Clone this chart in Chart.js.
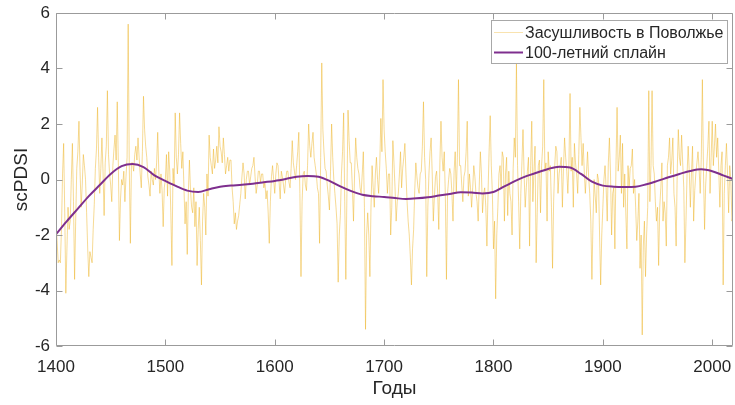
<!DOCTYPE html>
<html lang="ru">
<head>
<meta charset="utf-8">
<title>scPDSI — Поволжье</title>
<script src="https://cdn.jsdelivr.net/npm/chart.js@4.4.1/dist/chart.umd.min.js"></script>
<style>
  html, body { margin: 0; padding: 0; background: #ffffff; }
  #chartBox { width: 735px; height: 405px; }
</style>
</head>
<body>
<div id="chartBox"><canvas id="pdsiChart" width="735" height="405"></canvas></div>
<script>
// Annual scPDSI for the Volga region, one value per year starting at FIRST_YEAR (rows are decades)
const FIRST_YEAR = 1400;
const annualPdsi = [
  -1.5, -2.2, -3.0, -2.9, -3.0, -1.8, 0.2, 1.3, -1.2, -4.1,
  -2.5, -1.0, -1.8, -1.5, 0.0, 1.3, -0.8, -3.6, -1.5, 0.4,
  1.0, 2.1, 0.3, -1.0, -0.2, 0.9, 0.5, 0.0, -1.2, -2.5,
  -3.5, -2.6, -2.8, -3.0, -1.8, -0.9, 0.4, 1.1, 2.6, 0.8,
  -0.5, 0.4, 1.5, 0.3, -1.3, 0.6, 1.2, 3.2, 0.9, 0.2,
  -0.2, -0.8, 0.5, 1.1, 1.6, 0.7, 2.8, 0.6, -2.2, -0.7,
  0.0, -0.2, 0.3, -0.8, 0.1, 0.8, 5.6, 0.5, -2.3, 0.6,
  0.6, 0.3, 0.9, 1.2, 0.7, 1.5, 0.8, 0.2, -0.3, 1.0,
  3.0, 1.8, 1.2, 0.8, 0.1, -0.2, -0.6, 0.3, 0.0, -0.2,
  0.4, 0.0, 0.6, 1.7, 0.3, -0.5, 0.2, -0.4, -1.7, -0.3,
  0.0, 0.9, -0.6, 1.0, 0.3, -1.2, -3.1, 0.4, -0.2, 2.4,
  0.8, 0.2, 0.9, 2.4, 1.3, 0.4, 1.0, -0.3, -1.6, -0.8,
  -2.7, -0.5, 0.7, -0.4, -1.0, -1.2, -0.3, -1.7, -0.8, -3.1,
  -1.8, -1.0, -2.2, -3.8, -1.5, -0.5, -1.0, -2.0, 0.2, -0.6,
  1.6, 0.8, 0.5, 0.2, 1.1, 0.4, 0.7, 1.2, 0.6, 1.9,
  1.2, 1.0, 0.6, 1.5, 0.9, 0.2, 0.5, 0.8, 0.3, 0.7,
  0.7, -0.3, -0.8, -1.6, -1.2, -1.8, -1.5, -1.3, -0.9, -0.5,
  0.1, 0.6, 0.2, -0.7, 0.0, 0.3, 0.3, -0.2, 0.1, 0.4,
  0.5, 0.8, 0.1, -0.5, -0.2, 0.3, 0.3, -0.1, 0.2, 0.2,
  -0.3, -0.1, -0.7, -0.4, -1.2, -2.3, -0.8, 0.1, 0.5, 0.0,
  -0.5, 0.2, 0.6, 0.5, -0.1, -0.7, 0.3, 0.1, -0.2, -0.5,
  0.0, 0.3, 0.3, -0.1, -0.3, 0.4, 1.4, 0.6, 0.3, 0.0,
  0.5, 1.0, 1.7, -0.5, -3.5, -0.8, 0.2, 0.3, -0.2, -0.4,
  0.5, 2.0, 1.2, 0.8, 1.3, 1.7, 0.8, 0.5, 0.2, -0.3,
  -0.5, -2.3, 0.8, 4.2, 1.8, 1.0, 0.4, 0.3, -0.2, -0.6,
  -1.1, 0.3, 2.0, 0.8, 0.0, -0.5, -1.0, -1.6, -3.7, -2.0,
  -1.3, 0.2, 1.0, 2.4, -0.8, -3.6, -0.5, 2.5, 1.4, 0.6,
  0.6, -0.3, -1.5, 0.2, 1.5, 0.8, 0.4, 0.2, -0.3, -0.5,
  0.2, 1.0, -1.0, -5.4, -2.0, -1.2, -2.0, -3.5, -1.0, 0.5,
  -0.3, -1.0, 0.2, 0.8, 0.0, -0.5, 0.5, 2.2, 1.0, 3.6,
  1.8, 1.0, 0.4, -0.5, 0.2, 0.2, -2.0, -1.0, 1.4, 0.6,
  -0.3, -1.5, -0.8, -0.5, 0.2, 1.0, -0.3, 0.4, 0.8, 1.3,
  0.2, -0.8, -1.5, -2.0, -2.8, -3.8, -2.5, -1.8, -0.4, 0.6,
  0.1, -0.3, -0.5, 0.2, 0.3, 1.2, 2.8, 0.8, 0.0, -3.5,
  -1.0, 0.2, 1.0, 1.5, 0.2, -1.5, -0.6, 0.1, 0.3, -0.5,
  -1.8, 0.6, 2.1, 0.8, 0.3, 1.0, -0.6, -3.6, -0.5, 0.0,
  0.4, 0.2, -0.5, -1.5, 0.3, 1.0, -0.5, 0.8, 3.6, 0.5,
  0.5, -0.2, -0.8, 0.1, 0.3, 1.0, 2.1, -0.6, 0.2, -0.3,
  -1.0, -0.3, 0.5, 0.1, -0.5, -0.8, -1.5, -0.2, 1.0, 0.2,
  -1.2, -0.5, -0.3, -1.0, -2.4, -0.5, 1.0, 2.3, 0.5, -0.5,
  -2.5, -1.5, -4.3, -2.0, -1.0, 0.2, 0.5, -0.3, 1.0, 0.8,
  -1.5, 0.2, 0.8, -1.3, 0.3, -0.5, -0.8, -2.0, 0.4, 1.5,
  0.8, 4.2, 0.5, -0.8, -2.5, -0.5, 0.6, 1.8, 0.2, -1.0,
  -0.3, 0.3, 0.8, -2.4, 0.5, 2.1, -0.8, 0.3, 1.2, -3.0,
  -1.2, 0.5, 0.7, -1.2, 0.5, 1.2, 3.6, 0.3, 0.6, -1.5,
  1.0, 0.3, 0.5, -1.0, -3.2, -0.8, 0.5, 1.2, 1.0, -0.5,
  0.2, 0.5, 0.8, -1.0, 0.4, 1.5, 0.8, 0.3, -0.5, 0.6,
  3.1, 0.3, 0.8, -1.0, 1.3, 0.6, 0.2, -0.5, 0.9, 2.6,
  1.5, 0.5, 1.3, 0.3, -0.5, 0.2, 1.0, 0.1, -0.5, -1.5,
  -3.6, -1.5, 0.0, -0.6, -1.2, 0.2, 0.0, -2.0, -3.8, -2.0,
  -1.0, 0.0, 0.5, -0.3, -1.5, 0.6, 1.5, 0.2, -2.0, -0.5,
  -0.3, -2.5, 0.5, 2.6, 0.3, 0.8, 1.6, -0.5, 1.3, -1.0,
  0.2, -1.2, -2.5, 0.5, -0.3, 0.4, 0.5, 1.1, -0.5, 0.0,
  -1.0, -2.2, -1.5, -0.5, -3.2, -2.0, -5.6, -2.4, -1.5, -3.5,
  -2.0, -1.0, 3.2, -0.8, 0.5, 3.2, 0.5, 0.2, -0.8, -1.5,
  -1.0, -3.1, -1.0, -0.3, 0.6, -1.5, -0.8, -1.2, -2.4, 0.5,
  0.8, 1.5, 0.2, 0.7, 1.5, -0.5, -1.0, -2.4, 0.3, 1.8,
  0.8, 0.5, 1.6, 0.6, -0.3, -3.0, -1.5, 0.2, 1.2, 0.3,
  -1.0, 0.2, 1.2, -1.5, -0.4, 0.2, 0.6, 1.0, 0.4, -0.5,
  0.8, 3.6, 0.3, -1.8, -0.2, 0.5, 1.2, 2.1, -0.5, 0.8,
  2.1, 0.5, 1.2, 2.0, 0.8, 1.5, 0.3, -1.0, 0.5, 1.0,
  -3.8, -0.5, 0.5, 1.3, 0.2, -1.2, 0.5, 0.0, -1.5, -1.3
];

// 100-year smoothing spline, sampled every decade
const splineYears = [
  1400, 1410, 1420, 1430, 1440, 1450, 1460, 1470, 1480, 1490,
  1500, 1510, 1520, 1530, 1540, 1550, 1560, 1570, 1580, 1590,
  1600, 1610, 1620, 1630, 1640, 1650, 1660, 1670, 1680, 1690,
  1700, 1710, 1720, 1730, 1740, 1750, 1760, 1770, 1780, 1790,
  1800, 1810, 1820, 1830, 1840, 1850, 1860, 1870, 1880, 1890,
  1900, 1910, 1920, 1930, 1940, 1950, 1960, 1970, 1980, 1990,
  2000, 2010, 2019
];
const splineValues = [
  -1.97, -1.5, -1.05, -0.6, -0.2, 0.2, 0.48, 0.56, 0.45, 0.15,
  -0.05, -0.24, -0.4, -0.45, -0.35, -0.26, -0.22, -0.19, -0.15, -0.1,
  -0.05, 0.02, 0.1, 0.13, 0.1, -0.05, -0.25, -0.42, -0.55, -0.6,
  -0.63, -0.67, -0.7, -0.68, -0.64, -0.58, -0.52, -0.46, -0.47, -0.5,
  -0.45, -0.25, -0.05, 0.12, 0.25, 0.38, 0.46, 0.43, 0.2, -0.08,
  -0.22, -0.26, -0.27, -0.26, -0.17, -0.05, 0.08, 0.2, 0.31, 0.37,
  0.3, 0.15, 0.02
];

const yearTicks = [1400, 1500, 1600, 1700, 1800, 1900, 2000];
const pdsiTicks = [-6, -4, -2, 0, 2, 4, 6];

const seriesNames = ['Засушливость в Поволжье', '100-летний сплайн'];
const xTitle = 'Годы';
const yTitle = 'scPDSI';

(function () {
  const FONT = "'Liberation Sans', Arial, Helvetica, sans-serif";
  const AXIS_GRAY = '#9b9b9b';
  const TEXT_GRAY = '#262626';
  const TICK_LEN = 6;

  const annualPoints = annualPdsi.map((value, index) => ({ x: FIRST_YEAR + index, y: value }));
  const splinePoints = splineYears.map((year, index) => ({ x: year, y: splineValues[index] }));

  // drop the label overhang padding so the plot area is set by layout.padding only
  const noOverhang = (scale) => {
    scale.paddingLeft = 0;
    scale.paddingRight = 0;
    scale.paddingTop = 0;
    scale.paddingBottom = 0;
  };

  // box around the plot area with inward ticks on all four sides
  const axesBox = {
    id: 'axesBox',
    afterDatasetsDraw(chart) {
      const { ctx, chartArea: area, scales } = chart;
      const left = Math.round(area.left) + 0.5;
      const right = Math.round(area.right) - 0.5;
      const top = Math.round(area.top) + 0.5;
      const bottom = Math.round(area.bottom) - 0.5;

      ctx.save();
      ctx.strokeStyle = AXIS_GRAY;
      ctx.lineWidth = 1;
      ctx.beginPath();
      ctx.rect(left, top, right - left, bottom - top);

      yearTicks.forEach((year) => {
        const px = Math.round(scales.x.getPixelForValue(year)) + 0.5;
        ctx.moveTo(px, bottom);
        ctx.lineTo(px, bottom - TICK_LEN);
        ctx.moveTo(px, top);
        ctx.lineTo(px, top + TICK_LEN);
      });
      pdsiTicks.forEach((value) => {
        const py = Math.round(scales.y.getPixelForValue(value)) + 0.5;
        ctx.moveTo(left, py);
        ctx.lineTo(left + TICK_LEN, py);
        ctx.moveTo(right, py);
        ctx.lineTo(right - TICK_LEN, py);
      });
      ctx.stroke();
      ctx.restore();
    }
  };

  // legend box in the upper right corner of the plot
  const cornerLegend = {
    id: 'cornerLegend',
    afterDraw(chart) {
      const { ctx, chartArea: area } = chart;
      const datasets = chart.data.datasets;
      const fontSize = 16;
      const rowHeight = 20;
      const sampleLen = 29;

      ctx.save();
      ctx.font = `${fontSize}px ${FONT}`;
      const textWidth = Math.max(...datasets.map((ds) => ctx.measureText(ds.label).width));
      const boxWidth = 3 + sampleLen + 2 + textWidth + 4;
      const boxHeight = rowHeight * datasets.length + 3;
      const boxRight = Math.round(area.right) - 6;
      const boxLeft = boxRight - Math.round(boxWidth);
      const boxTop = Math.round(area.top) + 7;

      ctx.fillStyle = '#ffffff';
      ctx.fillRect(boxLeft, boxTop, boxRight - boxLeft, boxHeight);
      ctx.strokeStyle = '#a8a8a8';
      ctx.lineWidth = 1;
      ctx.strokeRect(boxLeft + 0.5, boxTop + 0.5, boxRight - boxLeft, boxHeight);

      datasets.forEach((ds, index) => {
        const rowY = boxTop + 12.5 + index * rowHeight;
        ctx.strokeStyle = ds.legendColor || ds.borderColor;
        ctx.lineWidth = ds.borderWidth;
        ctx.beginPath();
        ctx.moveTo(boxLeft + 3, rowY);
        ctx.lineTo(boxLeft + 3 + sampleLen, rowY);
        ctx.stroke();

        ctx.fillStyle = TEXT_GRAY;
        ctx.textBaseline = 'middle';
        ctx.textAlign = 'left';
        ctx.fillText(ds.label, boxLeft + 3 + sampleLen + 2, rowY + 1);
      });
      ctx.restore();
    }
  };

  new Chart(document.getElementById('pdsiChart'), {
    type: 'line',
    data: {
      datasets: [
        {
          label: seriesNames[0],
          data: annualPoints,
          borderColor: 'rgba(237, 177, 32, 0.8)',
          legendColor: 'rgba(237, 177, 32, 0.6)',
          borderWidth: 0.6,
          pointRadius: 0,
          tension: 0,
          order: 2
        },
        {
          label: seriesNames[1],
          data: splinePoints,
          borderColor: '#7E2F8E',
          borderWidth: 2,
          pointRadius: 0,
          cubicInterpolationMode: 'monotone',
          order: 1
        }
      ]
    },
    options: {
      responsive: false,
      devicePixelRatio: 1,
      animation: false,
      layout: { padding: { top: 13, right: 2, left: 0, bottom: 0 } },
      plugins: {
        legend: { display: false },
        tooltip: { enabled: false }
      },
      scales: {
        x: {
          type: 'linear',
          min: FIRST_YEAR,
          max: FIRST_YEAR + annualPdsi.length - 1,
          afterBuildTicks: (scale) => {
            scale.ticks = yearTicks.map((value) => ({ value }));
          },
          afterFit: (scale) => {
            scale.height = 59;
            noOverhang(scale);
          },
          grid: { display: false, drawTicks: false },
          border: { display: false },
          ticks: {
            color: TEXT_GRAY,
            font: { family: FONT, size: 17 },
            padding: 11,
            maxRotation: 0,
            callback: (value) => String(value)
          },
          title: {
            display: true,
            text: xTitle,
            color: TEXT_GRAY,
            font: { family: FONT, size: 19 },
            padding: { top: 0, bottom: 5 }
          }
        },
        y: {
          min: -6,
          max: 6,
          afterBuildTicks: (scale) => {
            scale.ticks = pdsiTicks.map((value) => ({ value }));
          },
          afterFit: (scale) => {
            scale.width = 56;
            noOverhang(scale);
          },
          grid: { display: false, drawTicks: false },
          border: { display: false },
          ticks: {
            color: TEXT_GRAY,
            font: { family: FONT, size: 17 },
            padding: 6
          },
          title: {
            display: true,
            text: yTitle,
            color: TEXT_GRAY,
            font: { family: FONT, size: 19 },
            padding: { top: 10, bottom: 0 }
          }
        }
      }
    },
    plugins: [axesBox, cornerLegend]
  });
})();
</script>
</body>
</html>
